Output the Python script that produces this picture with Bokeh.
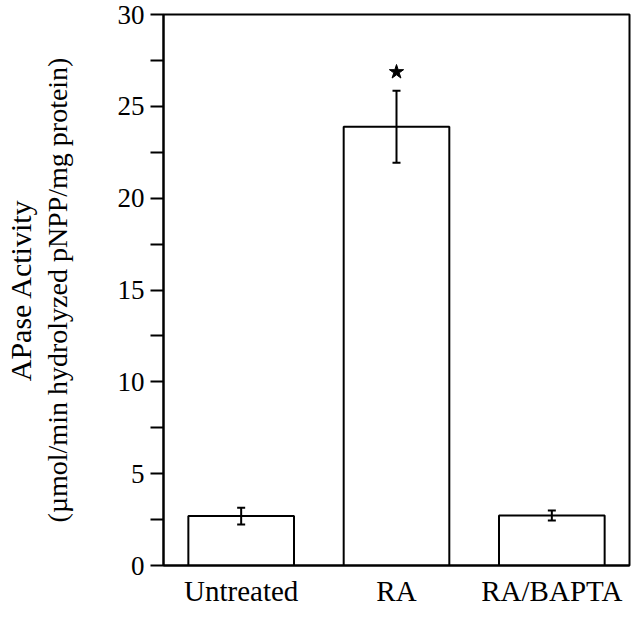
from bokeh.plotting import figure
from bokeh.models import (FactorRange, Range1d, FixedTicker, ColumnDataSource, Whisker,
                          TeeHead, LinearAxis)
from bokeh.embed import file_html
from bokeh.resources import INLINE

categories = ["Untreated", "RA", "RA/BAPTA"]
activity = [2.69, 23.89, 2.72]
err_upper = [3.14, 25.85, 3.0]
err_lower = [2.23, 21.93, 2.45]
sig_categories = ["RA"]
sig_y = [26.87]
y_ticks = [0, 5, 10, 15, 20, 25, 30]
y_minor = [2.5, 7.5, 12.5, 17.5, 22.5, 27.5]
y_title_1 = "APase Activity"
y_title_2 = "(\u00b5mol/min hydrolyzed pNPP/mg protein)"

FONT = "Liberation Serif"

p = figure(width=632, height=609, x_range=FactorRange(*categories, range_padding=0),
           y_range=Range1d(0, 30), output_backend="svg", toolbar_location=None,
           min_border_top=14, min_border_left=160, min_border_right=3, min_border_bottom=41)

src = ColumnDataSource(dict(cat=categories, val=activity, up=err_upper, lo=err_lower))
p.vbar(x="cat", top="val", bottom=0, width=0.68, source=src,
       fill_color="white", line_color="black", line_width=2)

w = Whisker(base="cat", upper="up", lower="lo", source=src, line_color="black", line_width=2,
            upper_head=TeeHead(size=8, line_width=2, line_color="black"),
            lower_head=TeeHead(size=8, line_width=2, line_color="black"),
            level="annotation")
p.add_layout(w)

p.scatter(x=sig_categories, y=sig_y, marker="star", size=15, fill_color="black", line_color="black")

p.xgrid.visible = False
p.ygrid.visible = False
p.outline_line_color = "black"
p.outline_line_width = 2
p.background_fill_color = "white"
p.border_fill_color = "white"

ya = p.yaxis[0]
ya.ticker = FixedTicker(ticks=y_ticks, minor_ticks=y_minor)
ya.axis_line_width = 2
ya.major_tick_line_width = 2
ya.minor_tick_line_width = 2
ya.major_tick_out = 13
ya.major_tick_in = 0
ya.minor_tick_out = 13
ya.minor_tick_in = 0
ya.major_label_text_font = FONT
ya.major_label_text_font_size = "27px"
ya.major_label_text_color = "black"
ya.major_label_standoff = 6
ya.axis_label = y_title_2
ya.axis_label_text_font = FONT
ya.axis_label_text_font_size = "28px"
ya.axis_label_text_font_style = "normal"
ya.axis_label_text_color = "black"
ya.axis_label_standoff = 42

outer = LinearAxis(ticker=FixedTicker(ticks=[]), axis_label=y_title_1,
                   axis_line_color=None, major_tick_line_color=None, minor_tick_line_color=None,
                   major_tick_out=0, major_tick_in=0, minor_tick_out=0, minor_tick_in=0,
                   major_label_standoff=0, major_label_text_font_size="0px",
                   axis_label_text_font=FONT, axis_label_text_font_size="30px",
                   axis_label_text_font_style="normal", axis_label_text_color="black",
                   axis_label_standoff=2)
p.add_layout(outer, "left")

xa = p.xaxis[0]
xa.axis_line_width = 2
xa.major_tick_out = 0
xa.major_tick_in = 0
xa.minor_tick_line_color = None
xa.major_tick_line_color = None
xa.major_label_text_font = FONT
xa.major_label_text_font_size = "29px"
xa.major_label_text_color = "black"
xa.major_label_standoff = 9

open("out.html", "w").write(file_html(p, INLINE))
